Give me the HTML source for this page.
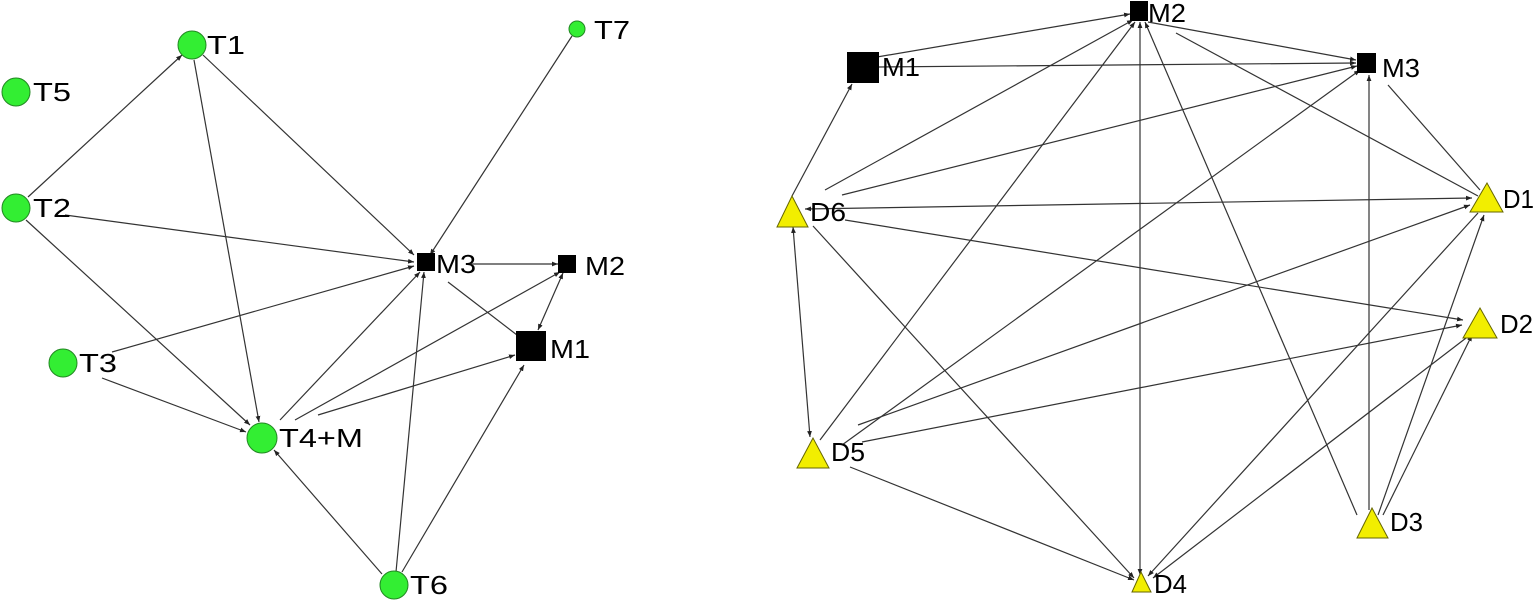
<!DOCTYPE html>
<html><head><meta charset="utf-8"><style>
html,body{margin:0;padding:0;background:#fff;}
svg{display:block;}
text{font-family:"Liberation Sans",Arial,sans-serif;font-size:26px;fill:#000;}
</style></head><body>
<svg width="1535" height="603" viewBox="0 0 1535 603" xmlns="http://www.w3.org/2000/svg">
<defs>
<marker id="a" viewBox="0 0 10 10" refX="10" refY="5" markerWidth="6" markerHeight="6" orient="auto-start-reverse" markerUnits="userSpaceOnUse"><path d="M0,1 L10,5 L0,9 z" fill="#222"/></marker>
</defs>
<g stroke="#333" stroke-width="1.2" fill="none">
<line x1="28" y1="197" x2="182" y2="55" marker-end="url(#a)"/>
<line x1="194" y1="60" x2="259" y2="422" marker-end="url(#a)"/>
<line x1="203" y1="55" x2="414" y2="255" marker-end="url(#a)"/>
<line x1="65" y1="215" x2="414" y2="262" marker-end="url(#a)"/>
<line x1="26" y1="220" x2="250" y2="425" marker-end="url(#a)"/>
<line x1="112" y1="352" x2="414" y2="266" marker-end="url(#a)"/>
<line x1="102" y1="378" x2="246" y2="432" marker-end="url(#a)"/>
<line x1="280" y1="420" x2="420" y2="272" marker-end="url(#a)"/>
<line x1="295" y1="420" x2="560" y2="272" marker-end="url(#a)"/>
<line x1="318" y1="415" x2="515" y2="355" marker-end="url(#a)"/>
<line x1="382" y1="574" x2="274" y2="450" marker-end="url(#a)"/>
<line x1="396" y1="572" x2="424" y2="272" marker-end="url(#a)"/>
<line x1="402" y1="572" x2="524" y2="365" marker-end="url(#a)"/>
<line x1="470" y1="264" x2="558" y2="264" marker-end="url(#a)"/>
<line x1="448" y1="282" x2="517" y2="335"/>
<line x1="538" y1="330" x2="563" y2="273" marker-start="url(#a)" marker-end="url(#a)"/>
<line x1="572" y1="36" x2="430" y2="255" marker-end="url(#a)"/>
<line x1="877" y1="57" x2="1130" y2="14" marker-end="url(#a)"/>
<line x1="878" y1="67" x2="1356" y2="63" marker-end="url(#a)"/>
<line x1="1148" y1="22" x2="1356" y2="60" marker-end="url(#a)"/>
<line x1="1176" y1="33" x2="1478" y2="196"/>
<line x1="1388" y1="85" x2="1480" y2="190"/>
<line x1="792" y1="196" x2="852" y2="84" marker-end="url(#a)"/>
<line x1="825" y1="190" x2="1133" y2="20" marker-end="url(#a)"/>
<line x1="842" y1="195" x2="1357" y2="66" marker-end="url(#a)"/>
<line x1="805" y1="209" x2="1472" y2="198" marker-start="url(#a)" marker-end="url(#a)"/>
<line x1="845" y1="220" x2="1463" y2="320" marker-end="url(#a)"/>
<line x1="793" y1="227" x2="810" y2="437" marker-start="url(#a)" marker-end="url(#a)"/>
<line x1="813" y1="226" x2="1134" y2="578" marker-end="url(#a)"/>
<line x1="820" y1="440" x2="1135" y2="22" marker-end="url(#a)"/>
<line x1="842" y1="445" x2="1360" y2="70" marker-end="url(#a)"/>
<line x1="858" y1="425" x2="1470" y2="205" marker-end="url(#a)"/>
<line x1="862" y1="442" x2="1462" y2="325" marker-end="url(#a)"/>
<line x1="850" y1="467" x2="1134" y2="580" marker-end="url(#a)"/>
<line x1="1140" y1="575" x2="1140" y2="22" marker-start="url(#a)" marker-end="url(#a)"/>
<line x1="1357" y1="515" x2="1145" y2="22" marker-end="url(#a)"/>
<line x1="1369" y1="510" x2="1369" y2="75" marker-end="url(#a)"/>
<line x1="1378" y1="515" x2="1484" y2="215" marker-end="url(#a)"/>
<line x1="1383" y1="515" x2="1472" y2="335" marker-end="url(#a)"/>
<line x1="1478" y1="213" x2="1148" y2="576" marker-end="url(#a)"/>
<line x1="1470" y1="335" x2="1153" y2="578" marker-end="url(#a)"/>
</g>
<g fill="#33ee33" stroke="#228822" stroke-width="1">
<circle cx="192" cy="45" r="14"/>
<circle cx="16" cy="92" r="14"/>
<circle cx="16" cy="208" r="14"/>
<circle cx="63" cy="363" r="14"/>
<circle cx="262" cy="438" r="15"/>
<circle cx="394" cy="585" r="14"/>
<circle cx="577" cy="29" r="8"/>
</g>
<g fill="#000">
<rect x="417" y="253" width="18" height="18"/>
<rect x="558" y="255" width="18" height="18"/>
<rect x="516" y="331" width="30" height="30"/>
<rect x="1130" y="1" width="18" height="20"/>
<rect x="847" y="52" width="32" height="31"/>
<rect x="1357" y="53" width="19" height="20"/>
</g>
<g fill="#f2ee00" stroke="#666600" stroke-width="1">
<polygon points="792,196 777,227 808,227"/>
<polygon points="1487,183 1470,212 1503,212"/>
<polygon points="1480,308 1463,338 1497,338"/>
<polygon points="813,438 797,468 829,468"/>
<polygon points="1372,508 1357,538 1388,538"/>
<polygon points="1141,572 1132,592 1151,592"/>
</g>
<g>
<text x="207" y="54" textLength="38" lengthAdjust="spacingAndGlyphs">T1</text>
<text x="33" y="101" textLength="38" lengthAdjust="spacingAndGlyphs">T5</text>
<text x="33" y="217" textLength="38" lengthAdjust="spacingAndGlyphs">T2</text>
<text x="79" y="372" textLength="38" lengthAdjust="spacingAndGlyphs">T3</text>
<text x="279" y="447" textLength="84" lengthAdjust="spacingAndGlyphs">T4+M</text>
<text x="410" y="594" textLength="38" lengthAdjust="spacingAndGlyphs">T6</text>
<text x="594" y="39" textLength="36" lengthAdjust="spacingAndGlyphs">T7</text>
<text x="436" y="273" textLength="40" lengthAdjust="spacingAndGlyphs">M3</text>
<text x="585" y="275" textLength="40" lengthAdjust="spacingAndGlyphs">M2</text>
<text x="550" y="358" textLength="40" lengthAdjust="spacingAndGlyphs">M1</text>
<text x="1148" y="22" textLength="38" lengthAdjust="spacingAndGlyphs">M2</text>
<text x="882" y="76" textLength="38" lengthAdjust="spacingAndGlyphs">M1</text>
<text x="1382" y="77" textLength="38" lengthAdjust="spacingAndGlyphs">M3</text>
<text x="810" y="221" textLength="36" lengthAdjust="spacingAndGlyphs">D6</text>
<text x="1503" y="208" textLength="31" lengthAdjust="spacingAndGlyphs">D1</text>
<text x="1500" y="333" textLength="33" lengthAdjust="spacingAndGlyphs">D2</text>
<text x="831" y="461" textLength="34" lengthAdjust="spacingAndGlyphs">D5</text>
<text x="1390" y="531" textLength="33" lengthAdjust="spacingAndGlyphs">D3</text>
<text x="1154" y="593" textLength="33" lengthAdjust="spacingAndGlyphs">D4</text>
</g>
</svg>
</body></html>
